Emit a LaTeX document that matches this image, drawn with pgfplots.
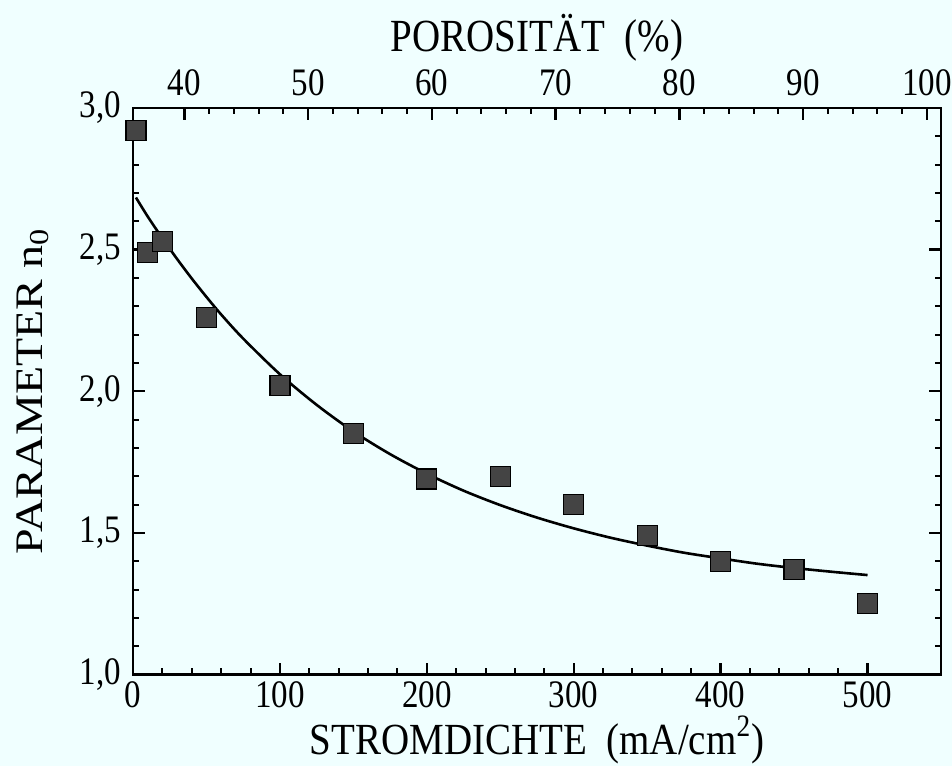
\documentclass[border=0pt]{standalone}
\usepackage{graphicx}
\usepackage{pgfplots}
\pgfplotsset{compat=1.18}
\usepackage{fontspec}
\setmainfont{Liberation Serif}
\definecolor{bgc}{RGB}{240,255,255}
\definecolor{sq}{RGB}{68,68,68}
% taller lettering for all labels
\newcommand{\tall}[1]{\scalebox{1}[1.18]{#1}}

\begin{document}
\begin{tikzpicture}
\fill[bgc] (-66.5pt,-45.75pt) rectangle (409.5pt,337.25pt);
\useasboundingbox (-66.5pt,-45.75pt) rectangle (409.5pt,337.25pt);
\pgfplotsset{
  every axis/.append style={
    scale only axis, width=404pt, height=283.25pt,
    /pgf/number format/assume math mode=true,
    axis line style={line width=1.2pt},
    major tick style={black, line width=1.2pt},
    minor tick style={black, line width=1pt},
    major tick length=6pt, minor tick length=3.2pt,
    tick label style={font=\fontsize{16.5}{17}\selectfont},
    label style={font=\fontsize{19.5}{22}\selectfont},
  }
}
% porosity scale along the top edge
\begin{axis}[
  xmin=35.85, xmax=101.15, ymin=1, ymax=3,
  axis x line*=top, axis y line=none,
  xtick={40,50,60,70,80,90,100}, minor x tick num=4,
  xticklabel={\tall{\axisdefaultticklabel}},
  xticklabel style={yshift=2.5pt},
  xlabel={\tall{POROSITÄT\ \ (\%)}},
  xlabel style={at={(axis description cs:0.5,1.0989)}, anchor=base},
]
\end{axis}
% current density against n0
\begin{axis}[
  xmin=0, xmax=550, ymin=1, ymax=3,
  xtick={0,100,200,300,400,500}, minor x tick num=4, xtick pos=left,
  ytick={1,1.5,2,2.5,3}, minor y tick num=4, ytick pos=both,
  xticklabel={\tall{\axisdefaultticklabel}},
  yticklabel={\tall{\axisdefaultticklabel}},
  yticklabel style={xshift=-2.5pt, /pgf/number format/.cd, fixed, fixed zerofill, precision=1, use comma},
  xlabel={\scalebox{1}[1.14]{STROMDICHTE\ \ (mA/cm\textsuperscript{2})}},
  xlabel style={at={(axis description cs:0.5,-0.1405)}, anchor=base, inner sep=1pt},
  ylabel={\scalebox{1.18}[1]{PARAMETER n\textsubscript{0}}},
  ylabel style={at={(axis description cs:-0.1238,0.5)}, anchor=center},
  clip=false,
]
\addplot[black, line width=1.3pt, smooth] coordinates {
  (2,2.684) (10,2.617) (20,2.540) (30,2.467) (40,2.398) (50,2.333)
  (60,2.271) (75,2.186) (100,2.060) (125,1.952) (150,1.858) (175,1.778)
  (200,1.709) (225,1.649) (250,1.598) (275,1.554) (300,1.516) (325,1.483)
  (350,1.455) (375,1.430) (400,1.410) (425,1.391) (450,1.376) (475,1.363)
  (500,1.351)
};
\addplot[only marks, mark=square*, mark size=5pt,
  mark options={fill=sq, draw=black, line width=0.6pt}] coordinates {
  (2,2.92) (10,2.49) (20,2.53) (50,2.26) (100,2.02) (150,1.85) (200,1.69)
  (250,1.70) (300,1.60) (350,1.49) (400,1.40) (450,1.37) (500,1.25)
};
\end{axis}
\end{tikzpicture}
\end{document}
